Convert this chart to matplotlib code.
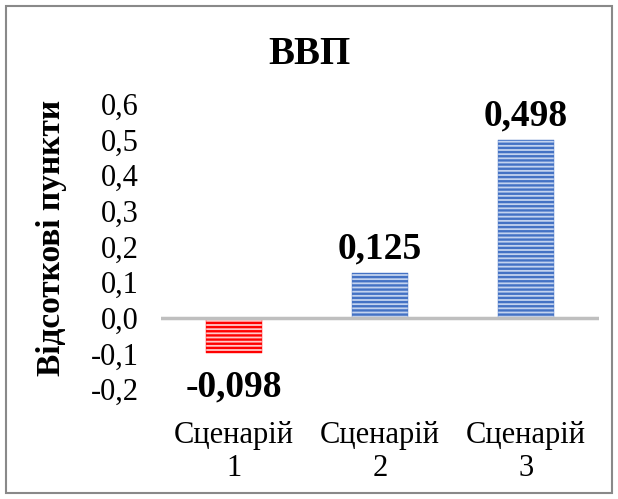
import matplotlib.pyplot as plt
from matplotlib.patches import Rectangle

plt.rcParams['font.family'] = ['Liberation Serif', 'DejaVu Serif']
plt.rcParams['hatch.linewidth'] = 1.7

# --------------------------------------------------
# Data
# --------------------------------------------------

categories = ["Сценарій\n1", "Сценарій\n2", "Сценарій\n3"]
values = [-0.098, 0.125, 0.498]
labels = ["-0,098", "0,125", "0,498"]
yticks = [-0.2, -0.1, 0.0, 0.1, 0.2, 0.3, 0.4, 0.5, 0.6]

# --------------------------------------------------
# Plot
# --------------------------------------------------

fig = plt.figure(figsize=(6.18, 4.99), dpi=100)
ax = fig.add_axes([161/618, 0.2204, 438/618, 0.5712])

x = list(range(len(values)))
face = ['#ffc8c8' if v < 0 else '#c3d3ef' for v in values]
hatchc = ['#ff0000' if v < 0 else '#4472c4' for v in values]

for xi, v, fc, hc in zip(x, values, face, hatchc):
    ax.bar(xi, v, width=0.39, facecolor=fc, edgecolor=hc,
           hatch='----', linewidth=0.3)

ax.axhline(0, color='#bfbfbf', linewidth=2.5, zorder=3)

for xi, v, lab in zip(x, values, labels):
    if v < 0:
        ax.annotate(lab, (xi, v), xytext=(0, -12), textcoords='offset points',
                    ha='center', va='top', fontsize=27, fontweight='bold')
    else:
        ax.annotate(lab, (xi, v), xytext=(0, 5), textcoords='offset points',
                    ha='center', va='bottom', fontsize=27, fontweight='bold')

ax.set_xlim(-0.5, 2.5)
ax.set_ylim(-0.2, 0.6)
ax.set_yticks(yticks)
ax.set_yticklabels([f"{t:.1f}".replace('.', ',') for t in yticks], fontsize=22)
ax.set_xticks(x)
ax.set_xticklabels(categories, fontsize=22, linespacing=1.2)
ax.tick_params(axis='both', length=0)
ax.tick_params(axis='x', pad=23)
ax.tick_params(axis='y', pad=16)

for s in ax.spines.values():
    s.set_visible(False)

ax.set_ylabel("Відсоткові пункти", fontsize=24, fontweight='bold')
ax.yaxis.set_label_coords(-0.215, 0.53)

fig.text(0.5, 0.89, "ВВП", ha='center', va='center',
         fontsize=28, fontweight='bold')

fig.patches.append(Rectangle((6/618, 6/499), 606/618, 487/499,
                             transform=fig.transFigure, fill=False,
                             edgecolor='#898989', linewidth=1.5))

fig.savefig("out.png", dpi=100)
